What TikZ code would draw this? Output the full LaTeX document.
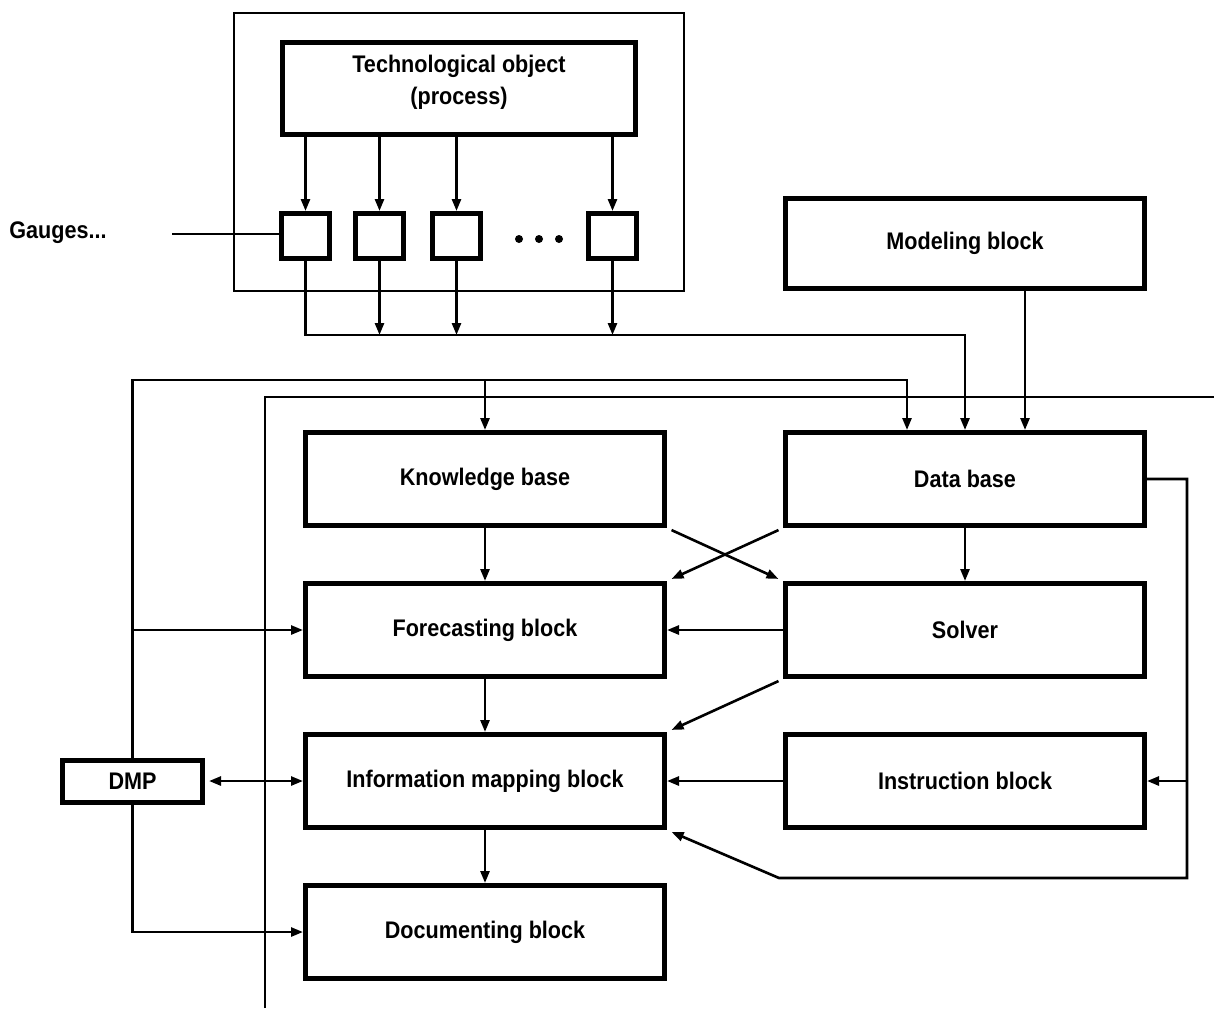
\documentclass[tikz,border=0pt]{standalone}
\usepackage{fontspec}
\setmainfont{Liberation Sans}[FakeStretch=0.9]
\usepackage{tikz}
\usetikzlibrary{arrows.meta,positioning,calc}

\begin{document}
\begin{tikzpicture}[
  x=0.5pt,y=-0.5pt,
  node distance=26.5pt and 58pt,
  >={Triangle[length=6pt,width=4.5pt]},
  lbl/.style={font=\bfseries\fontsize{12}{16}\selectfont},
  block/.style={lbl,draw,line width=2.5pt,minimum width=179.5pt,minimum height=46.5pt,inner sep=0pt,align=center},
  gauge/.style={draw,line width=2.5pt,minimum width=24pt,minimum height=22.5pt,inner sep=0pt},
  plantframe/.style={draw,line width=0.9pt,minimum width=225pt,minimum height=139pt,inner sep=0pt},
  wire/.style={line width=1.3pt},
  arr/.style={wire,->},
  diag/.style={arr,shorten <=2.5pt,shorten >=2.5pt}
]
\useasboundingbox (0,0) rectangle (1214,1008);

% plant with gauges
\node[plantframe] (plant) at (459,152) {};
\node[block,minimum width=176.5pt,minimum height=46pt] (tech) at (459,88.5) {Technological object\\(process)\\[-7pt]};
\node[gauge] (g1) at (305.5,236) {};
\node[gauge] (g2) at (379.5,236) {};
\node[gauge] (g3) at (456.5,236) {};
\node[gauge] (g4) at (612.5,236) {};
\fill (519,239) circle (2pt);
\fill (539,239) circle (2pt);
\fill (559,239) circle (2pt);
\node[lbl] (glabel) at (58,233) {Gauges...};
\coordinate (gstub) at (172,234);

% blocks
\node[block] (kb) at (485,479) {Knowledge base};
\node[block,right=of kb] (db) {Data base};
\node[block,above=69.5pt of db,minimum height=45pt] (model) {Modeling block};
\node[block,below=of kb] (fore) {Forecasting block};
\node[block,right=of fore] (solver) {Solver};
\node[block,below=of fore] (info) {Information mapping block};
\node[block,right=of info] (instr) {Instruction block};
\node[block,below=of info] (doc) {Documenting block};
\node[block,left=49pt of info,minimum width=70pt,minimum height=21pt] (dmp) {DMP};

% sensors
\draw[arr] (tech.south -| g1) -- (g1);
\draw[arr] (tech.south -| g2) -- (g2);
\draw[arr] (tech.south -| g3) -- (g3);
\draw[arr] (tech.south -| g4) -- (g4);
\draw[wire] (gstub) -- (gstub -| g1.west);
\coordinate (bus) at (965,335);
\draw[arr] (g1.south) |- (bus) -- (bus |- db.north);
\draw[arr] (g2.south) -- (g2.south |- bus);
\draw[arr] (g3.south) -- (g3.south |- bus);
\draw[arr] (g4.south) -- (g4.south |- bus);
\draw[arr] ([xshift=30pt]model.south) -- ([xshift=30pt]db.north);

% DMP links
\coordinate (loop) at (907,380);
\draw[arr] (dmp.north) |- (loop) -- (loop |- db.north);
\draw[arr] (kb.north |- loop) -- (kb.north);
\draw[arr] (dmp.north |- fore.west) -- (fore.west);
\draw[arr] (dmp.south) |- (doc.west);
\draw[wire,<->,shorten <=2pt] (dmp.east) -- (info.west);

% long line
\coordinate (lowend) at (265,1008);
\coordinate (farend) at (1214,397);
\draw[wire] (lowend) |- (farend);

% inner flow
\draw[arr] (kb) -- (fore);
\draw[arr] (fore) -- (info);
\draw[arr] (info) -- (doc);
\draw[arr] (db) -- (solver);
\draw[arr] (solver) -- (fore);
\draw[arr] (instr) -- (info);
\draw[diag] (kb.south east) -- (solver.north west);
\draw[diag] (db.south west) -- (fore.north east);
\draw[diag] (solver.south west) -- (info.north east);

% feedback from data base
\coordinate (rc) at (1187,878);
\coordinate (bc) at (779,878);
\draw[arr,shorten >=2.5pt] (db.east) -| (rc) -- (bc) -- (info.south east);
\draw[arr] (rc |- instr.east) -- (instr.east);
\end{tikzpicture}
\end{document}
